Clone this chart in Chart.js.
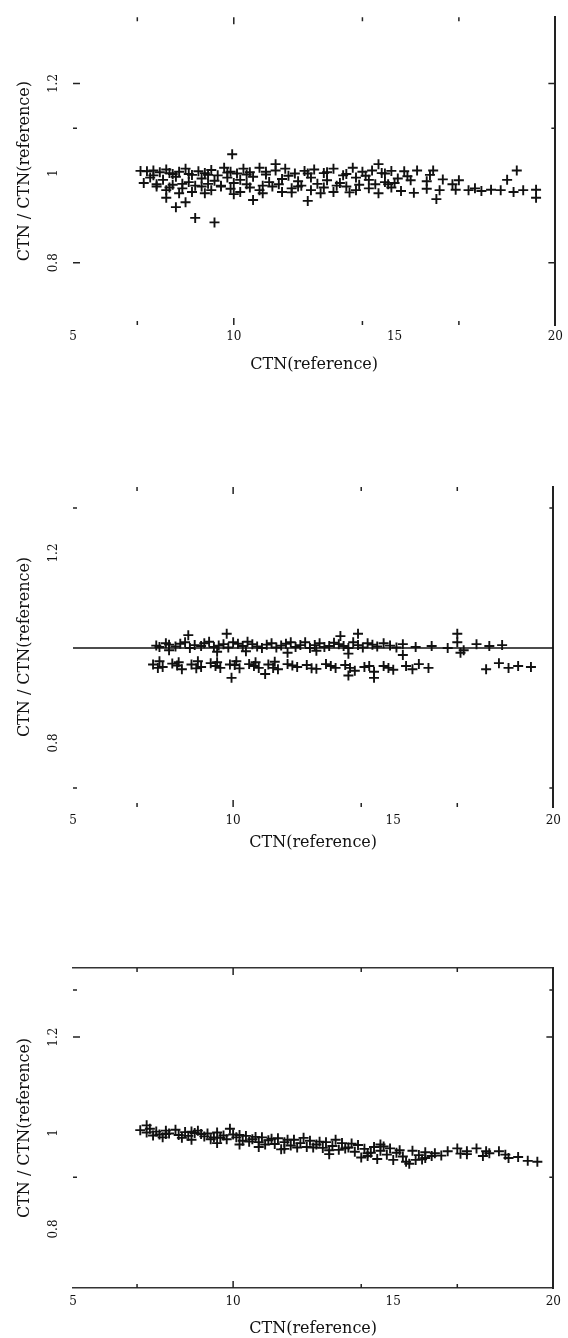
<!DOCTYPE html>
<html>
<head>
<meta charset="utf-8">
<script src="https://cdn.jsdelivr.net/npm/chart.js@4.4.1/dist/chart.umd.min.js"></script>
<style>
  body { margin: 0; background: #fff; }
  canvas { position: absolute; left: 0; }
</style>
</head>
<body>
<canvas id="c1" width="568" height="440" style="top:0px"></canvas>
<canvas id="c2" width="568" height="460" style="top:440px"></canvas>
<canvas id="c3" width="568" height="438" style="top:900px"></canvas>
<script>
// axis ticks
const xTickLabels = [5, 10, 15, 20];
const xTickMarks = [7, 10, 14, 17];
const xMajorMarks = [10];

const p1YLabels = [0.8, 1, 1.2];
const p1YMarks = [1.2, 1.1, 0.8];
const p1YMajor = [1.2, 0.8];
const p2YLabels = [0.8, 1.2];
const p2YMarks = [1.295, 0.705];
const p2YMajor = [];
const p3YLabels = [0.8, 1, 1.2];
const p3YMarks = [1.298, 1.2, 0.908];
const p3YMajor = [1.2];

// reference line in the middle panel
const refX = [5, 20];
const refY = [1, 1];

// panel 1
const p1x = [7.1,7.3,7.5,7.7,7.9,8.1,8.3,8.5,8.7,8.9,9.1,9.3,9.5,9.7,9.9,10.1,10.3,10.5,10.8,11.0,11.3,11.6,11.9,12.2,12.5,12.8,13.1,13.4,13.7,14.0,14.3,14.6,14.9,15.3,15.7,16.2,
  7.4,7.8,8.2,8.6,9.0,9.4,9.8,10.2,10.6,11.1,11.5,12.0,12.4,12.9,13.3,13.8,14.2,14.7,15.1,15.5,16.0,16.5,17.0,18.5,
  7.6,7.9,8.1,8.4,8.7,9.0,9.3,9.6,9.9,10.2,10.5,10.8,11.2,11.5,11.8,12.1,12.4,12.8,13.1,13.5,13.8,14.2,14.5,14.9,15.2,15.6,16.0,16.4,16.9,17.3,17.7,18.0,18.3,18.7,19.0,19.4,19.4,
  8.2,8.8,9.4,9.95,7.9,8.5,10.6,12.3,16.3,14.5,11.3,18.8,
  7.2,7.6,8.0,8.4,8.8,9.2,9.6,10.0,10.4,10.9,11.4,12.0,12.6,13.2,13.9,14.8,
  7.5,8.0,8.6,9.2,9.8,10.4,11.0,11.7,12.3,12.9,13.5,14.1,14.7,15.4,16.1,16.8,17.5,8.3,9.1,10.0,10.9,11.8,12.7,13.6,14.4,15.0];
const p1y = [1.005,1.004,1.006,1.002,1.008,0.998,1.003,1.010,0.996,1.004,1.000,1.007,0.995,1.012,1.003,0.999,1.010,1.002,1.012,0.997,1.006,1.010,0.999,1.005,1.008,1.000,1.010,0.995,1.012,1.003,1.006,1.000,1.005,1.004,1.006,1.006,
  0.990,0.985,0.992,0.980,0.988,0.983,0.990,0.985,0.992,0.980,0.987,0.982,0.990,0.984,0.978,0.990,0.985,0.980,0.988,0.984,0.982,0.986,0.984,0.985,
  0.970,0.962,0.974,0.966,0.958,0.970,0.962,0.972,0.965,0.958,0.968,0.962,0.970,0.958,0.966,0.972,0.962,0.968,0.958,0.970,0.962,0.966,0.955,0.968,0.960,0.956,0.965,0.962,0.963,0.962,0.960,0.963,0.962,0.958,0.962,0.963,0.945,
  0.924,0.900,0.890,1.042,0.945,0.935,0.940,0.938,0.942,1.020,1.020,1.006,
  0.978,0.975,0.968,0.976,0.972,0.976,0.970,0.978,0.975,0.972,0.975,0.970,0.976,0.972,0.974,0.975,
  0.995,1.000,0.998,0.996,1.001,0.997,1.003,0.994,0.999,1.002,0.998,0.994,0.999,0.993,0.996,0.975,0.966,0.955,0.955,0.953,0.955,0.957,0.955,0.957,0.975,0.978];

// panel 2
const p2x = [7.6,7.9,8.2,8.5,8.8,9.1,9.4,9.7,10.0,10.3,10.6,10.9,11.2,11.5,11.8,12.1,12.4,12.7,13.0,13.3,13.6,13.9,14.2,14.5,14.9,15.3,15.7,16.2,16.7,17.0,17.2,17.6,18.0,18.4,8.6,9.8,13.35,13.9,17.0,
  9.5,11.7,13.6,15.3,17.1,8.0,10.4,12.6,
  7.5,7.8,8.1,8.4,8.7,9.0,9.3,9.6,9.9,10.2,10.5,10.8,11.1,11.4,11.7,12.0,12.3,12.6,12.9,13.2,13.5,13.8,14.1,14.4,14.7,15.0,15.4,15.8,16.1,17.9,18.3,18.6,18.9,19.3,9.95,14.4,13.6,11.0,
  7.7,8.3,8.9,9.5,10.1,10.7,11.3,
  7.7,8.0,8.35,8.65,9.0,9.25,9.55,9.85,10.15,10.45,10.75,11.05,11.35,11.65,11.95,12.25,12.55,12.85,13.15,13.45,13.75,14.05,14.35,14.7,15.1,
  7.65,8.25,8.85,9.45,10.05,10.65,11.25,11.85,12.45,13.05,13.65,14.25,14.85,15.6];
const p2y = [1.005,1.010,1.003,1.012,1.006,1.010,1.002,1.008,1.012,1.004,1.008,1.000,1.010,1.005,1.012,1.006,1.000,1.010,1.004,1.008,1.000,1.006,1.010,1.003,1.005,1.008,1.002,1.004,1.000,1.012,0.995,1.008,1.004,1.006,1.027,1.030,1.025,1.030,1.030,
  0.992,0.990,0.988,0.985,0.990,0.995,0.993,0.994,
  0.965,0.960,0.967,0.955,0.965,0.960,0.968,0.958,0.965,0.957,0.966,0.958,0.965,0.955,0.966,0.960,0.964,0.956,0.966,0.958,0.964,0.952,0.960,0.950,0.962,0.954,0.962,0.966,0.958,0.955,0.968,0.958,0.962,0.960,0.937,0.937,0.942,0.945,
  0.972,0.970,0.972,0.970,0.972,0.970,0.971,
  1.002,1.007,1.009,1.000,1.004,1.013,1.005,1.001,1.009,1.013,1.003,1.007,1.001,1.009,1.002,1.012,1.006,1.002,1.011,1.004,1.012,1.001,1.007,1.010,1.001,
  0.958,0.963,0.957,0.962,0.964,0.962,0.958,0.963,0.957,0.962,0.958,0.962,0.958,0.955];

// panel 3
const p3x = [7.1,7.3,7.4,7.6,7.7,7.9,8.0,8.2,8.3,8.5,8.6,8.8,8.9,9.1,9.2,9.4,9.5,9.7,9.8,10.0,
  10.1,10.3,10.4,10.6,10.8,10.9,11.1,11.3,11.4,11.6,11.8,11.9,12.1,12.3,12.4,12.6,12.8,12.9,13.1,13.3,
  13.4,13.6,13.8,13.9,14.1,14.3,14.4,14.6,14.8,14.9,15.1,15.3,15.5,15.6,15.8,16.0,16.3,16.7,17.0,17.3,
  17.6,17.8,18.0,18.3,18.6,18.9,19.2,19.5,10.2,10.8,11.6,12.2,13.0,14.0,14.5,15.0,16.0,8.7,9.5,7.8,
  9.9,7.3,11.5,13.2,14.6,16.5,17.3,15.4,15.9,14.2,
  7.5,7.9,8.4,8.7,9.0,9.3,9.6,10.2,10.5,10.7,11.0,11.2,11.7,12.0,12.5,12.7,13.0,13.5,13.7,14.2,14.7,15.2,15.7,16.2,17.1,17.9,18.5];
const p3y = [1.006,1.001,1.009,1.003,0.997,1.005,0.999,1.007,0.996,1.002,0.994,1.000,1.005,0.993,0.999,0.991,1.001,0.995,0.987,0.997,
  0.991,0.984,0.994,0.987,0.981,0.991,0.985,0.977,0.989,0.981,0.974,0.986,0.979,0.971,0.984,0.976,0.969,0.981,0.973,0.965,
  0.979,0.970,0.961,0.975,0.967,0.959,0.971,0.963,0.955,0.968,0.959,0.951,0.936,0.963,0.954,0.960,0.958,0.962,0.968,0.962,
  0.968,0.952,0.958,0.962,0.948,0.950,0.942,0.940,0.976,0.971,0.967,0.990,0.956,0.949,0.946,0.944,0.948,0.986,0.979,0.991,
  1.009,1.016,0.966,0.986,0.976,0.953,0.956,0.940,0.945,0.952,
  0.995,0.998,0.990,1.003,0.998,0.987,0.990,0.996,0.982,0.992,0.976,0.988,0.986,0.970,0.970,0.982,0.964,0.968,0.978,0.958,0.972,0.964,0.944,0.952,0.957,0.962,0.955];

const ink = '#111';
const tickFont = { family: 'DejaVu Serif', size: 12 };
const titleFont = { family: 'DejaVu Serif', size: 16 };

function innerTicks(yMarks, yMajor) {
  return {
    id: 'innerTicks',
    afterDatasetsDraw(chart) {
      const { ctx, chartArea: a } = chart;
      const x = chart.scales.x, y = chart.scales.y;
      ctx.save();
      ctx.strokeStyle = '#222';
      ctx.lineWidth = 1.5;
      ctx.beginPath();
      xTickMarks.forEach(v => {
        const p = x.getPixelForValue(v);
        const len = xMajorMarks.includes(v) ? 7 : 4;
        ctx.moveTo(p, a.top); ctx.lineTo(p, a.top + len);
        ctx.moveTo(p, a.bottom); ctx.lineTo(p, a.bottom - len);
      });
      yMarks.forEach(v => {
        const p = y.getPixelForValue(v);
        const len = yMajor.includes(v) ? 7 : 4;
        ctx.moveTo(a.left, p); ctx.lineTo(a.left + len, p);
        ctx.moveTo(a.right, p); ctx.lineTo(a.right - len, p);
      });
      ctx.stroke();
      ctx.restore();
    }
  };
}

function panel(id, p) {
  const datasets = [{
    data: p.xs.map((x, i) => ({ x: x, y: p.ys[i] })),
    pointStyle: 'cross',
    pointRadius: 5,
    borderWidth: 1.9,
    borderColor: ink,
    showLine: false
  }];
  if (p.ref) {
    datasets.push({
      type: 'line',
      data: refX.map((x, i) => ({ x: x, y: refY[i] })),
      borderColor: ink,
      borderWidth: 1.5,
      pointRadius: 0
    });
  }
  new Chart(document.getElementById(id), {
    type: 'scatter',
    data: { datasets: datasets },
    options: {
      responsive: false,
      animation: false,
      devicePixelRatio: 1,
      layout: { padding: { top: p.padTop, right: 10, left: 0, bottom: 0 } },
      plugins: { legend: { display: false }, tooltip: { enabled: false } },
      scales: {
        x: {
          type: 'linear', position: 'bottom', min: 5, max: 20,
          afterBuildTicks: s => { s.ticks = xTickLabels.map(v => ({ value: v })); },
          afterFit: s => { s.height = p.xAxisH; },
          grid: { display: false, drawTicks: false },
          border: { display: p.box, width: 1.5, color: '#333' },
          ticks: { font: tickFont, color: ink, padding: p.xTickPad, maxRotation: 0 },
          title: { display: true, text: 'CTN(reference)', font: titleFont, color: ink,
                   padding: { top: 0, bottom: p.titlePad } }
        },
        x2: {
          type: 'linear', position: 'top', display: p.box, min: 5, max: 20,
          afterFit: s => { s.height = 0; },
          grid: { display: false, drawTicks: false },
          ticks: { display: false },
          border: { display: true, width: 1.5, color: '#333' }
        },
        y: {
          type: 'linear', position: 'left', min: p.yMin, max: p.yMax,
          afterBuildTicks: s => { s.ticks = p.yLabels.map(v => ({ value: v })); },
          afterFit: s => { s.width = 73; },
          grid: { display: false, drawTicks: false },
          border: { display: false },
          ticks: { font: tickFont, color: ink, padding: 10, minRotation: 90, maxRotation: 90,
                   crossAlign: 'center',
                   callback: v => (v === 1 ? '1' : v.toFixed(1)) },
          title: { display: true, text: 'CTN / CTN(reference)', font: titleFont, color: ink,
                   padding: { top: 15, bottom: 0 } }
        },
        y2: {
          type: 'linear', position: 'right', min: p.yMin, max: p.yMax,
          afterFit: s => { s.width = 0; },
          grid: { display: false, drawTicks: false },
          ticks: { display: false },
          border: { display: true, width: 2, color: '#222' }
        }
      }
    },
    plugins: [innerTicks(p.yMarks, p.yMajor)]
  });
}

panel('c1', { xs: p1x, ys: p1y, yMin: 0.661, yMax: 1.348, yLabels: p1YLabels, yMarks: p1YMarks, yMajor: p1YMajor,
  padTop: 4, xAxisH: 115, xTickPad: 5, titlePad: 66, box: false, ref: false });
panel('c2', { xs: p2x, ys: p2y, yMin: 0.665, yMax: 1.339, yLabels: p2YLabels, yMarks: p2YMarks, yMajor: p2YMajor,
  padTop: 47, xAxisH: 93, xTickPad: 7, titlePad: 48, box: false, ref: true });
panel('c3', { xs: p3x, ys: p3y, yMin: 0.677, yMax: 1.344, yLabels: p3YLabels, yMarks: p3YMarks, yMajor: p3YMajor,
  padTop: 68, xAxisH: 50, xTickPad: 7, titlePad: 0, box: true, ref: false });
</script>
</body>
</html>
